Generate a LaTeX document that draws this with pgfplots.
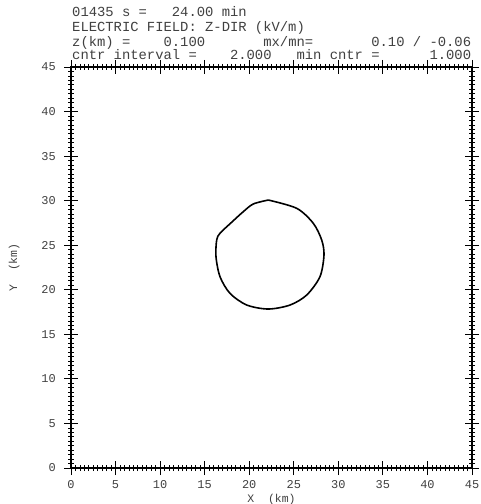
\documentclass[border=0pt]{standalone}
\usepackage{fontspec}
\usepackage{pgfplots}
\pgfplotsset{compat=1.18}
\newfontfamily\mono{Liberation Mono}

\begin{document}
\begin{tikzpicture}
\begin{axis}[
    scale only axis,
    width=401bp, height=401bp,
    xmin=0, xmax=45, ymin=0, ymax=45,
    xtick={0,5,...,45}, ytick={0,5,...,45},
    minor x tick num=9, minor y tick num=9,
    tick align=center,
    major tick length=14bp, minor tick length=6bp,
    every tick/.style={black, line width=0.8pt},
    axis line style={line width=1.2pt},
    tick label style={font=\mono\fontsize{12}{12}\selectfont, text=black!75},
    /pgf/number format/assume math mode=true,
    xticklabel style={anchor=base, inner sep=0pt, yshift=-13bp},
    yticklabel style={anchor=east, inner sep=0pt, xshift=-8bp},
    xlabel={X~~(km)}, ylabel={Y~~(km)},
    label style={font=\mono\fontsize{11.5}{11.5}\selectfont, text=black!75},
    xlabel style={at={(axis description cs:0.5,0)}, anchor=base, yshift=-34bp, inner sep=0pt},
    ylabel style={at={(axis description cs:-0.142,0.5)}, anchor=center, inner sep=0pt},
    clip=false,
]
% closed contour (1.0 kV/m)
\addplot[black, line width=1.6pt, smooth] coordinates {
    (22.14,30.07) (25.33,29.14) (27.19,27.46) (28.13,25.59) (28.39,23.90)
    (27.94,21.47) (26.45,19.41) (24.58,18.29) (22.14,17.84) (19.72,18.29)
    (17.84,19.60) (16.72,21.47) (16.27,23.71) (16.35,25.59) (16.72,26.34)
    (18.00,27.55) (19.34,28.77) (20.46,29.63) (22.14,30.07)
};
\coordinate (bl) at (rel axis cs:0,0);
\coordinate (tr) at (rel axis cs:1,1);
\begin{scope}[every node/.style={anchor=base west, inner sep=0pt, text=black!75,
        font=\mono\fontsize{13.9}{13.9}\selectfont}]
\node[xshift=1bp, yshift=50bp] at (rel axis cs:0,1) {01435~s~=~~~24.00~min};
\node[xshift=1bp, yshift=35bp] at (rel axis cs:0,1) {ELECTRIC~FIELD:~Z-DIR~(kV/m)};
\node[xshift=1bp, yshift=20.5bp] at (rel axis cs:0,1) {z(km)~=~~~~0.100~~~~~~~mx/mn=~~~~~~~0.10~/~-0.06};
\node[xshift=1bp, yshift=7bp] at (rel axis cs:0,1) {cntr~interval~=~~~~2.000~~~min~cntr~=~~~~~~1.000};
\end{scope}
\end{axis}
\pgfresetboundingbox
\path[use as bounding box] ([xshift=-71bp,yshift=-36bp]bl) rectangle ([xshift=9bp,yshift=67bp]tr);
\end{tikzpicture}
\end{document}
